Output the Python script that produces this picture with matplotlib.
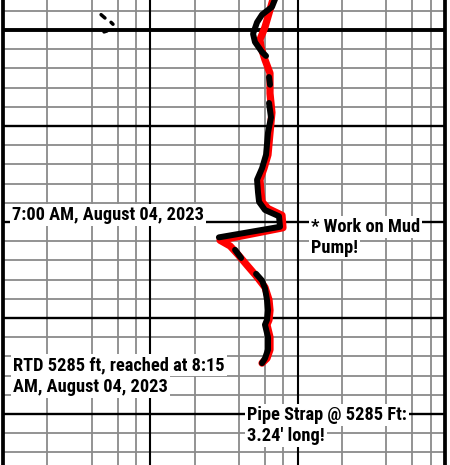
import matplotlib
matplotlib.use("Agg")
import matplotlib.pyplot as plt
import matplotlib.transforms as mtransforms
import numpy as np

nan = np.nan

# ---- data ----
red_depth = [5246.8, 5247.9, 5249.7, 5251.0, 5251.8, 5253.1, 5254.5, 5256.6, 5258.6, 5260.7,
             5263.0, 5264.4, 5265.6, 5266.9, 5267.9, 5268.6, 5269.3, 5270.6, 5271.9, 5272.5,
             5273.4, 5274.5, 5275.6, 5276.8, 5278.1, 5279.2, 5280.2, 5280.7, 5282.0, 5283.3,
             5284.2, 5284.7]
red_rop = [68.0, 64.9, 60.0, 55.5, 56.4, 60.0, 64.9, 64.9, 66.9, 64.9,
           62.9, 59.1, 55.5, 56.4, 57.3, 62.9, 78.3, 79.5, 29.7, 34.8,
           39.4, 45.3, 52.2, 60.0, 63.9, 64.9, 63.9, 61.9, 64.9, 64.9,
           61.9, 57.3]

black_depth = [5246.8, 5247.6, 5248.4, 5249.2, 5250.4, 5251.25, 5252.3, 5252.7, nan,
               5254.9, 5255.7, nan,
               5257.6, 5259.1, 5260.7, 5263.0, 5264.4, 5265.6, 5266.9, 5267.9, 5268.75,
               5269.4, 5270.5, 5271.6, nan,
               5272.9, 5273.75, nan,
               5275.4, 5276.1, 5276.9, 5278.1, 5279.2, 5280.2, 5280.7, 5282.0, 5283.3,
               5284.2, 5284.7]
black_rop = [70.2, 66.9, 57.3, 53.0, 49.8, 51.3, 57.3, 61.0, nan,
             63.9, 64.9, nan,
             63.9, 65.9, 62.9, 61.0, 57.3, 53.0, 53.8, 54.7, 60.0,
             74.7, 75.9, 29.2, nan,
             37.6, 41.3, nan,
             52.2, 57.3, 60.0, 61.9, 62.9, 61.9, 60.0, 62.9, 62.9,
             60.0, 57.3]

stray_depth = [5248.4, 5248.75, nan, 5249.2, 5249.4, nan, 5250.2, 5250.1]
stray_rop = [4.63, 4.92, nan, 5.41, 5.58, nan, 4.85, 5.08]

x_minor = [2, 4, 6, 8, 20, 40, 60, 80, 200, 400, 600, 800]
x_major = [10, 100]
y_minor = [5248, 5252, 5254, 5256, 5258, 5262, 5264, 5266, 5268, 5272, 5274, 5276, 5278,
           5282, 5284, 5286, 5288, 5292, 5294]
y_major = [5260, 5270, 5280, 5290]
y_heavy = [5250]

notes = [
    (0.0204, [(5269.79, "7:00 AM, August 04, 2023")]),
    (0.697, [(5271.04, "* Work on Mud"), (5273.23, "Pump!")]),
    (0.0226, [(5285.42, "RTD 5285 ft, reached at 8:15"), (5287.66, "AM, August 04, 2023")]),
    (0.552, [(5290.625, "Pipe Strap @ 5285 Ft:"), (5292.86, "3.24' long!")]),
]

# ---- figure ----
fig = plt.figure(figsize=(4.5, 4.65), dpi=100)
ax = fig.add_axes([3 / 450, 0, 442 / 450, 1])
ax.set_xscale("log")
ax.set_xlim(1, 1000)
ax.set_ylim(5295.3125, 5246.875)

for x in x_minor:
    ax.axvline(x, color="#8a8a8a", lw=1.3, zorder=1)
for y in y_minor:
    ax.axhline(y, color="#8a8a8a", lw=1.3, zorder=1)
for x in x_major:
    ax.axvline(x, color="black", lw=1.5, zorder=1.5)
for y in y_major:
    ax.axhline(y, color="black", lw=1.7, zorder=1.5)
for y in y_heavy:
    ax.axhline(y, color="black", lw=2.8, zorder=1.5)

ax.plot(red_rop, red_depth, color="#ff0000", lw=5.2, solid_capstyle="round",
        solid_joinstyle="round", zorder=3)
ax.plot(black_rop, black_depth, color="black", lw=4.3, solid_capstyle="round",
        solid_joinstyle="round", zorder=4)
ax.plot(stray_rop, stray_depth, color="black", lw=2.5, solid_capstyle="round", zorder=4)

ax.tick_params(which="both", length=0, labelbottom=False, labelleft=False)
ax.minorticks_off()
for s in ("top", "bottom"):
    ax.spines[s].set_visible(False)
for s in ("left", "right"):
    ax.spines[s].set_linewidth(2.7)
    ax.spines[s].set_zorder(6)

trans = mtransforms.blended_transform_factory(ax.transAxes, ax.transData)
fam = ["Roboto Condensed", "Liberation Sans", "DejaVu Sans"]
for xf, lines in notes:
    for yv, txt in lines:
        ax.text(xf, yv, txt, transform=trans, ha="left", va="baseline",
                fontsize=13.2, fontweight="bold", family=fam, color="black",
                bbox=dict(facecolor="white", edgecolor="none", pad=1.5), zorder=7)

fig.savefig("out.png", dpi=100)
